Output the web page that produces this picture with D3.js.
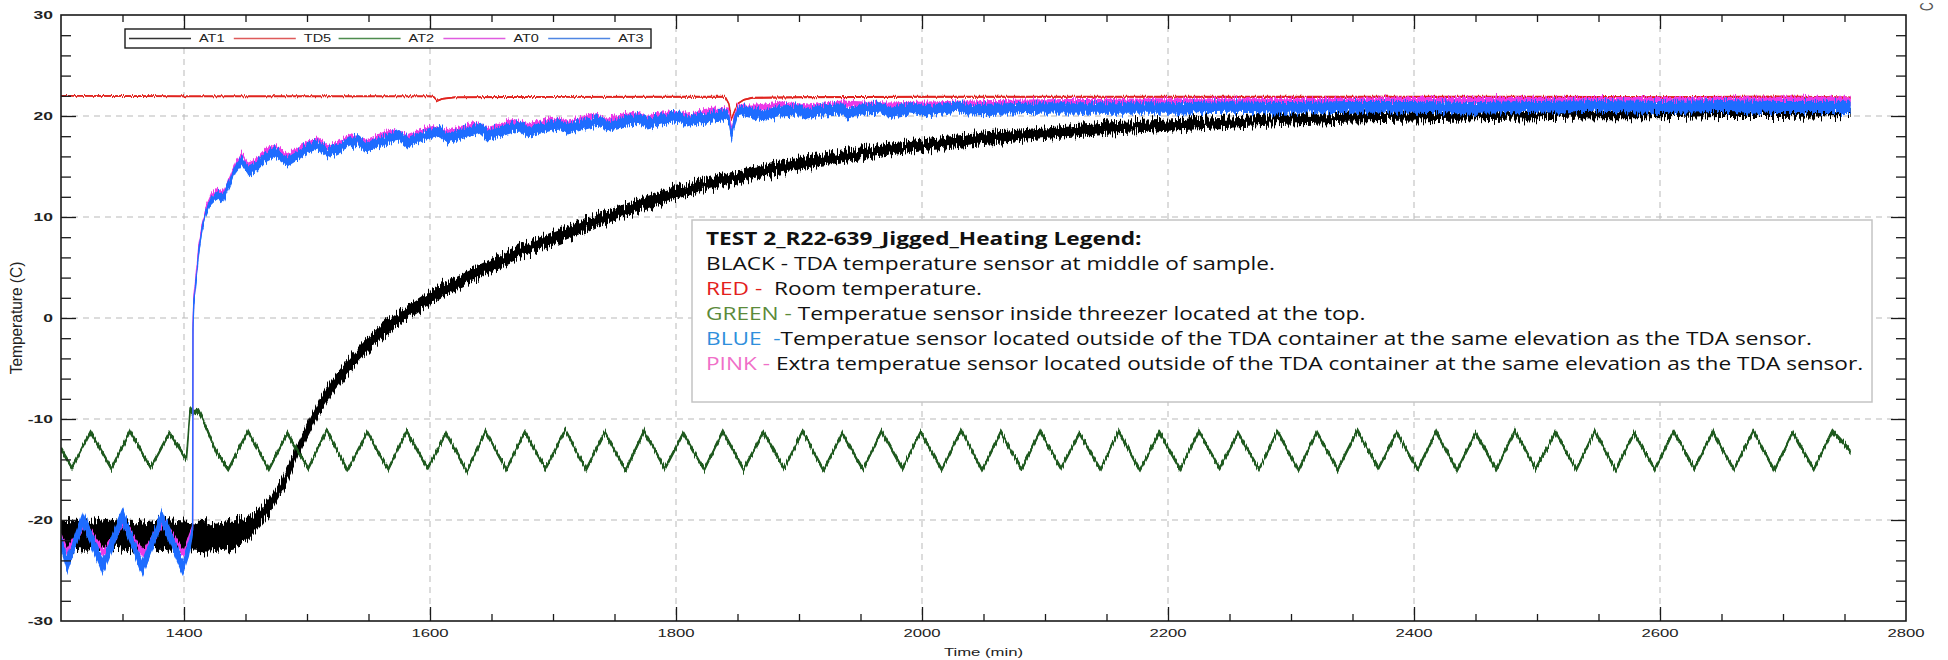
<!DOCTYPE html>
<html>
<head>
<meta charset="utf-8">
<script src="https://cdn.jsdelivr.net/npm/d3@7"></script>
<style>
  html, body { margin: 0; padding: 0; background: #fff; }
  svg { display: block; }
  .tick-lbl { font-family: "Liberation Sans", Arial, sans-serif; font-size: 11px; fill: #222; }
</style>
</head>
<body>
<svg id="chart" width="1948" height="660"></svg>
<script>
// ---------------- data ----------------
// AT1 (black) – TDA sensor at middle of sample
const at1T = [1300,1320,1340,1360,1380,1400,1420,1440,1450,1460,1470,1480,1490,1500,1510,1520,1530,1540,1550,1560,1575,1600,1625,1650,1675,1700,1725,1750,1775,1800,1850,1900,1950,2000,2050,2100,2150,2200,2250,2300,2350,2400,2450,2500,2550,2600,2650,2700,2755];
const at1V = [-21.4,-21.6,-21.3,-21.7,-21.4,-21.6,-21.8,-21.5,-21.0,-20.0,-18.5,-16.5,-13.8,-11.2,-8.8,-6.9,-5.3,-3.9,-2.6,-1.4,0.0,2.0,3.7,5.2,6.6,7.9,9.1,10.3,11.4,12.4,14.0,15.3,16.3,17.1,17.8,18.3,18.8,19.1,19.4,19.7,19.9,20.0,20.1,20.2,20.3,20.3,20.4,20.4,20.5];
const at1NoiseT = [1300,1440,1460,1480,1600,1800,2755];
const at1NoiseV = [1.45,1.45,0.9,0.75,0.7,0.6,0.5];

// TD5 (red) – room temperature
const td5T = [1300,1400,1500,1600,1603,1606,1610,1620,1700,1800,1840,1843,1845,1847,1850,1855,1862,1900,2000,2100,2200,2300,2400,2500,2600,2700,2755];
const td5V = [22.0,21.95,21.95,21.95,21.9,21.5,21.7,21.85,21.9,21.9,21.9,21.2,19.7,20.3,21.2,21.6,21.8,21.85,21.9,21.9,21.9,21.9,21.9,21.9,21.85,21.9,21.8];
const td5NoiseT = [1300,2755];
const td5NoiseV = [0.08,0.12];

// AT2 (green) – freezer top sensor, cycle turning points
const at2T = [1300,1309,1324,1341,1356,1373,1388,1402,1405,1408,1412,1418,1426,1436,
  1452,1469,1484,1501,1516,1533,1549,1566,1581,1598,1613,1630,1645,1662,1677,1694,1710,1727,1742,1759,1774,1791,
  1806,1823,1838,1855,1871,1888,1903,1920,1935,1952,1967,1984,1999,2016,2032,2049,2064,2081,2096,2113,2128,2145,
  2160,2177,2193,2210,2225,2242,2257,2274,2289,2306,2321,2338,2354,2371,2386,2403,2418,2435,2450,2467,2482,2499,
  2515,2532,2547,2564,2579,2596,2611,2628,2643,2660,2676,2693,2708,2725,2740,2755];
const at2V = [-13.0,-14.8,-11.3,-14.9,-11.2,-14.8,-11.4,-14.0,-9.0,-9.4,-9.2,-10.8,-13.2,-15.0,
  -11.2,-15.0,-11.4,-14.9,-11.1,-15.1,-11.3,-15.0,-11.2,-14.9,-11.4,-15.2,-11.2,-15.0,-11.3,-14.9,-11.1,-15.0,-11.3,-15.1,-11.2,-14.9,
  -11.4,-15.0,-11.2,-15.0,-11.3,-14.9,-11.2,-15.1,-11.4,-15.0,-11.2,-14.9,-11.3,-15.0,-11.1,-15.1,-11.3,-15.0,-11.2,-14.9,-11.4,-15.0,
  -11.2,-15.1,-11.3,-15.0,-11.2,-14.9,-11.4,-15.0,-11.2,-15.1,-11.3,-15.0,-11.1,-14.9,-11.3,-15.0,-11.2,-15.1,-11.4,-15.0,-11.2,-14.9,
  -11.3,-15.0,-11.2,-15.1,-11.4,-15.0,-11.2,-14.9,-11.3,-15.0,-11.2,-15.1,-11.3,-15.0,-11.2,-13.2];
const at2NoiseT = [1300,2755];
const at2NoiseV = [0.28,0.28];

// AT0 (pink) – extra sensor outside TDA container
const at0T = [1300,1305,1319,1335,1351,1367,1383,1400,1404,1407,
  1407.3,1408,1410,1412,1415,1418,1422,1427,1432,1437,1442,1447,1452,1458,1466,1474,1484,1492,1501,1509,
  1517,1526,1535,1549,1558,1568,1582,1592,1602,1614,1625,1636,1647,1658,1668,1679,1690,1700,1712,1723,
  1733,1744,1755,1766,1777,1788,1798,1809,1820,1830,1843,1845,1847,1850,1866,1885,1907,1935,1972,2004,
  2037,2100,2200,2300,2400,2500,2600,2700,2755];
const at0V = [-21.6,-23.2,-20.4,-23.3,-20.2,-23.4,-20.2,-23.3,-21.8,-20.9,
  -0.5,2.0,4.4,6.9,9.4,10.9,12.0,12.6,12.3,13.7,15.3,16.1,15.1,15.4,16.4,16.9,16.0,16.6,17.3,17.6,
  16.8,17.3,17.9,17.4,17.9,18.4,17.9,18.4,18.8,18.3,18.7,19.1,18.6,19.0,19.4,18.9,19.3,19.6,19.2,19.6,
  19.9,19.5,19.9,20.1,19.7,20.1,20.3,19.9,20.3,20.5,20.4,18.3,19.7,20.8,20.8,21.1,20.8,21.2,21.0,21.1,
  21.2,21.3,21.4,21.4,21.5,21.5,21.5,21.5,21.5];
const at0NoiseT = [1300,1406,1408,2755];
const at0NoiseV = [0.4,0.4,0.3,0.4];

// AT3 (blue) – sensor outside TDA container
const at3T = [1300,1305,1318,1334,1350,1366,1382,1399,1404,1407,
  1407.3,1408,1410,1412,1415,1418,1422,1427,1432,1437,1442,1447,1452,1458,1466,1474,1484,1492,1501,1509,
  1517,1526,1535,1542,1549,1558,1568,1575,1582,1592,1602,1608,1614,1625,1636,1641,1647,1658,1668,1674,
  1679,1690,1700,1706,1712,1723,1733,1739,1744,1755,1766,1771,1777,1788,1798,1804,1809,1820,1830,1838,
  1843,1845,1847,1850,1856,1866,1874,1885,1900,1907,1920,1935,1939,1955,1968,1972,1990,2004,2030,2037,
  2069,2100,2150,2200,2250,2300,2350,2400,2450,2500,2550,2600,2650,2700,2755];
const at3V = [-22.3,-24.4,-19.9,-24.6,-19.6,-24.8,-19.7,-24.7,-22.8,-21.0,
  -1.0,1.5,4.0,6.5,9.0,10.5,11.6,12.2,11.9,13.3,14.8,15.6,14.6,14.9,15.9,16.4,15.5,16.1,16.8,17.1,
  16.3,16.8,17.4,17.6,16.9,17.4,17.9,18.1,17.4,17.9,18.3,18.5,17.8,18.2,18.6,18.8,18.1,18.5,18.9,19.0,
  18.4,18.8,19.1,19.2,18.7,19.1,19.4,19.5,19.0,19.4,19.6,19.7,19.2,19.6,19.8,19.9,19.4,19.8,20.0,20.1,
  19.9,18.0,19.2,20.3,20.5,20.2,20.1,20.5,20.6,20.2,20.6,20.7,20.3,20.7,20.8,20.4,20.8,20.5,20.9,20.6,
  20.7,20.8,20.8,20.8,20.9,20.8,20.9,20.9,20.8,20.9,21.0,20.9,21.0,20.9,20.9];
const at3NoiseT = [1300,1406,1408,1440,1850,2755];
const at3NoiseV = [0.85,0.85,0.35,0.5,0.55,0.6];

// axes
const xLabelValues = [1400,1600,1800,2000,2200,2400,2600,2800];
const xLabels = ["1400","1600","1800","2000","2200","2400","2600","2800"];
const xGridValues = [1400,1600,1800,2000,2200,2400,2600];
const yLabelValues = [-30,-20,-10,0,10,20,30];
const yLabels = ["-30","-20","-10","0","10","20","30"];
const yGridValues = [-20,-10,0,10,20];

// legend
const legendNames = ["AT1","TD5","AT2","AT0","AT3"];
const legendColors = ["#333333","#de5a5a","#4e8c4e","#e05ce0","#4f86e3"];

// annotation
const noteTitle = "TEST 2_R22-639_Jigged_Heating Legend:";
const noteKeys = ["BLACK - ","RED -  ","GREEN - ","BLUE  -","PINK - "];
const noteKeyColors = ["#111111","#e3201b","#5b8a3a","#2f8fdc","#f06fc8"];
const noteText = [
  "TDA temperature sensor at middle of sample.",
  "Room temperature.",
  "Temperatue sensor inside threezer located at the top.",
  "Temperatue sensor located outside of the TDA container at the same elevation as the TDA sensor.",
  "Extra temperatue sensor located outside of the TDA container at the same elevation as the TDA sensor."
];

// ---------------- drawing ----------------
const W = 1948, H = 660;
const P = { left: 61, right: 1906, top: 15, bottom: 621 };
const x = d3.scaleLinear().domain([1300, 2800]).range([P.left, P.right]);
const y = d3.scaleLinear().domain([-30, 30]).range([P.bottom, P.top]);
const SX = 1.52; // horizontal stretch of the plot lettering

const svg = d3.select("#chart");
const defs = svg.append("defs");
defs.append("clipPath").attr("id", "plotClip")
  .append("rect").attr("x", P.left).attr("y", P.top)
  .attr("width", P.right - P.left).attr("height", P.bottom - P.top);

// sensor-noise texture: vertical jitter only
function jitterFilter(id, amount, seed) {
  const f = defs.append("filter").attr("id", id)
    .attr("filterUnits", "userSpaceOnUse")
    .attr("x", 0).attr("y", 0).attr("width", W).attr("height", H)
    .attr("color-interpolation-filters", "sRGB");
  f.append("feTurbulence").attr("type", "fractalNoise")
    .attr("baseFrequency", "0.9 0.03").attr("numOctaves", 2).attr("seed", seed).attr("result", "n");
  f.append("feColorMatrix").attr("in", "n").attr("type", "matrix")
    .attr("values", "0 0 0 0 0.5  0 1 0 0 0  0 0 0 0 0  0 0 0 0 1").attr("result", "m");
  f.append("feDisplacementMap").attr("in", "SourceGraphic").attr("in2", "m")
    .attr("scale", amount).attr("xChannelSelector", "R").attr("yChannelSelector", "G");
}
jitterFilter("jBlack", 18, 3);
jitterFilter("jRed", 4, 5);
jitterFilter("jGreen", 8, 8);
jitterFilter("jPink", 10, 11);
jitterFilter("jBlue", 12, 13);

// grid
const grid = svg.append("g").attr("stroke", "#b9b9b9").attr("stroke-width", 1).attr("stroke-dasharray", "6,5");
grid.selectAll("line.gx").data(xGridValues).join("line").attr("class", "gx")
  .attr("x1", d => x(d)).attr("x2", d => x(d)).attr("y1", P.top).attr("y2", P.bottom);
grid.selectAll("line.gy").data(yGridValues).join("line").attr("class", "gy")
  .attr("x1", P.left).attr("x2", P.right).attr("y1", d => y(d)).attr("y2", d => y(d));

// series
const plot = svg.append("g").attr("clip-path", "url(#plotClip)");
function drawSeries(T, V, noiseT, noiseV, color, filterId, lineW) {
  const noise = d3.scaleLinear().domain(noiseT).range(noiseV).clamp(true);
  const pts = T.map((t, i) => ({ t, v: V[i], s: noise(t) }));
  const g = plot.append("g").attr("filter", `url(#${filterId})`);
  g.append("path").datum(pts)
    .attr("d", d3.area().x(d => x(d.t)).y0(d => y(d.v - d.s)).y1(d => y(d.v + d.s)))
    .attr("fill", color);
  g.append("path").datum(pts)
    .attr("d", d3.line().x(d => x(d.t)).y(d => y(d.v)))
    .attr("fill", "none").attr("stroke", color).attr("stroke-width", lineW)
    .attr("stroke-linejoin", "round");
}
drawSeries(at1T, at1V, at1NoiseT, at1NoiseV, "#000000", "jBlack", 1.8);
drawSeries(td5T, td5V, td5NoiseT, td5NoiseV, "#e0241f", "jRed", 1.6);
drawSeries(at2T, at2V, at2NoiseT, at2NoiseV, "#1f5a1f", "jGreen", 1.6);
drawSeries(at0T, at0V, at0NoiseT, at0NoiseV, "#ec3ae6", "jPink", 1.4);
drawSeries(at3T, at3V, at3NoiseT, at3NoiseV, "#1e6cff", "jBlue", 1.4);

// ticks (inward, all four sides)
const xMinor = d3.range(1350, 2800, 50).filter(v => v % 200 !== 0);
const xMajor = d3.range(1400, 2800, 200);
const yMinor = d3.range(-28, 30, 2).filter(v => v % 10 !== 0);
const yMajor = [-20, -10, 0, 10, 20];
const ax = svg.append("g");
function addAxis(axisGen, tf) {
  const g = ax.append("g").attr("transform", tf).call(axisGen);
  g.select(".domain").remove();
  g.selectAll("line").attr("stroke", "#1a1a1a").attr("stroke-width", 1.3);
}
addAxis(d3.axisBottom(x).tickValues(xMinor).tickSize(-7).tickFormat(""), `translate(0,${P.bottom})`);
addAxis(d3.axisBottom(x).tickValues(xMajor).tickSize(-14).tickFormat(""), `translate(0,${P.bottom})`);
addAxis(d3.axisTop(x).tickValues(xMinor).tickSize(-7).tickFormat(""), `translate(0,${P.top})`);
addAxis(d3.axisTop(x).tickValues(xMajor).tickSize(-14).tickFormat(""), `translate(0,${P.top})`);
addAxis(d3.axisLeft(y).tickValues(yMinor).tickSize(-10).tickFormat(""), `translate(${P.left},0)`);
addAxis(d3.axisLeft(y).tickValues(yMajor).tickSize(-15).tickFormat(""), `translate(${P.left},0)`);
addAxis(d3.axisRight(y).tickValues(yMinor).tickSize(-10).tickFormat(""), `translate(${P.right},0)`);
addAxis(d3.axisRight(y).tickValues(yMajor).tickSize(-15).tickFormat(""), `translate(${P.right},0)`);

// frame
svg.append("rect").attr("x", P.left).attr("y", P.top)
  .attr("width", P.right - P.left).attr("height", P.bottom - P.top)
  .attr("fill", "none").attr("stroke", "#1a1a1a").attr("stroke-width", 1.6);

// tick labels
svg.append("g").selectAll("text").data(xLabelValues).join("text")
  .attr("class", "tick-lbl").attr("text-anchor", "middle")
  .attr("transform", d => `translate(${x(d)},${P.bottom + 16}) scale(${SX},1)`)
  .text((d, i) => xLabels[i]);
svg.append("g").selectAll("text").data(yLabelValues).join("text")
  .attr("class", "tick-lbl").attr("text-anchor", "end").style("font-weight", "bold")
  .style("font-size", "11.5px")
  .attr("transform", d => `translate(${P.left - 8},${y(d) + 4}) scale(${SX},1)`)
  .text((d, i) => yLabels[i]);

// axis titles
svg.append("text").attr("class", "tick-lbl").attr("text-anchor", "middle")
  .attr("transform", `translate(${(P.left + P.right) / 2},${P.bottom + 35}) scale(${SX},1)`)
  .text("Time (min)");
svg.append("text").attr("class", "tick-lbl").attr("text-anchor", "middle")
  .style("font-size", "15.5px")
  .attr("transform", `translate(22,${(P.top + P.bottom) / 2}) scale(1.05,1) rotate(-90)`)
  .text("Temperature (C)");
// clipped right-hand axis title glyph at the top edge
svg.append("text").attr("class", "tick-lbl").style("fill", "#555").style("font-size", "12px")
  .attr("transform", `translate(1933,11) scale(${SX},1) rotate(-90)`)
  .text("C");

// legend
const lg = svg.append("g");
lg.append("rect").attr("x", 125).attr("y", 29).attr("width", 526).attr("height", 19)
  .attr("fill", "#fff").attr("stroke", "#1a1a1a").attr("stroke-width", 1.4);
const entryX = d3.scaleLinear().domain([0, legendNames.length]).range([129, 129 + 104.8 * legendNames.length]);
const le = lg.selectAll("g").data(legendNames).join("g")
  .attr("transform", (d, i) => `translate(${entryX(i)},38.5)`);
le.append("line").attr("x1", 0).attr("x2", 62).attr("y1", 0).attr("y2", 0)
  .attr("stroke", (d, i) => legendColors[i]).attr("stroke-width", 1.3);
le.append("text").attr("class", "tick-lbl").style("font-size", "10.5px")
  .attr("transform", `translate(70,3.8) scale(1.38,1)`)
  .text(d => d);

// annotation box
const nb = svg.append("g");
nb.append("rect").attr("x", 692).attr("y", 220).attr("width", 1180).attr("height", 182)
  .attr("fill", "#fff").attr("stroke", "#c4c4c4").attr("stroke-width", 1.5);
const noteG = nb.append("g").attr("font-family", "'Open Sans', 'Noto Sans', sans-serif")
  .attr("font-size", "18.5px").attr("fill", "#111");
const tLines = noteG.append("g");
tLines.append("text").attr("x", 0).attr("y", 0).attr("font-weight", "bold").text(noteTitle);
noteKeys.forEach((k, i) => {
  const t = tLines.append("text").attr("x", 0).attr("y", 25.2 * (i + 1)).attr("xml:space", "preserve")
    .style("white-space", "pre");
  t.append("tspan").attr("fill", noteKeyColors[i]).text(k);
  t.append("tspan").text(noteText[i]);
});
// fit the longest line to the box width
let widest = 0;
tLines.selectAll("text").each(function () { widest = Math.max(widest, this.getComputedTextLength()); });
const fitX = 1158 / widest;
tLines.attr("transform", `translate(706,244.5) scale(${fitX},1)`);
</script>
</body>
</html>
